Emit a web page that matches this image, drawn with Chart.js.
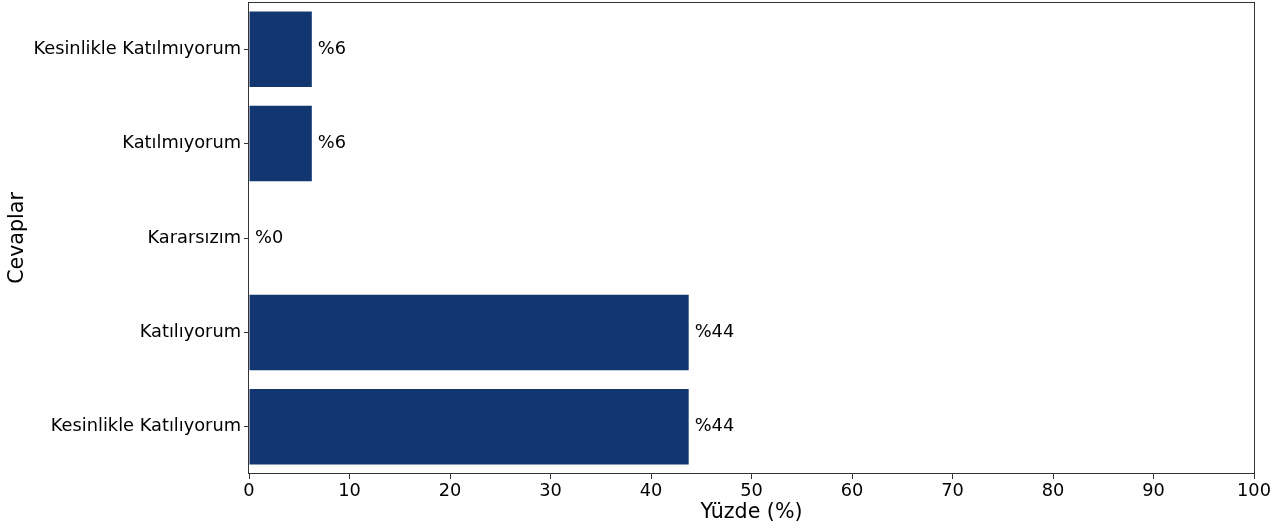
<!DOCTYPE html>
<html>
<head>
<meta charset="utf-8">
<script src="https://cdn.jsdelivr.net/npm/chart.js@4"></script>
<style>
html,body{margin:0;padding:0;background:#fff;}
#wrap{width:1285px;height:531px;position:relative;}
</style>
</head>
<body>
<div id="wrap"><canvas id="c" width="1285" height="531"></canvas></div>
<script>
const categories = ["Kesinlikle Katılmıyorum", "Katılmıyorum", "Kararsızım", "Katılıyorum", "Kesinlikle Katılıyorum"];
const percentages = [6.25, 6.25, 0, 43.75, 43.75];
const xTicks = [0, 10, 20, 30, 40, 50, 60, 70, 80, 90, 100];

const FONT = "'DejaVu Sans', sans-serif";
const TICK_SIZE = 17.8;

const framePlugin = {
  id: 'frame',
  afterDatasetsDraw(chart) {
    const {ctx, chartArea: a} = chart;
    ctx.save();
    ctx.strokeStyle = '#333';
    ctx.lineWidth = 1;
    ctx.strokeRect(Math.round(a.left) - 0.5, Math.round(a.top) + 0.5, Math.round(a.right - a.left) + 1, Math.round(a.bottom - a.top) - 1);
    ctx.restore();
  }
};

const labelPlugin = {
  id: 'barLabels',
  afterDatasetsDraw(chart) {
    const {ctx} = chart;
    const meta = chart.getDatasetMeta(0);
    ctx.save();
    ctx.font = TICK_SIZE + 'px ' + FONT;
    ctx.fillStyle = '#000';
    ctx.textAlign = 'left';
    ctx.textBaseline = 'middle';
    meta.data.forEach((bar, i) => {
      const v = chart.data.datasets[0].data[i];
      ctx.fillText('%' + Math.round(v), bar.x + 6, bar.y);
    });
    ctx.restore();
  }
};

new Chart(document.getElementById('c'), {
  type: 'bar',
  data: {
    labels: categories,
    datasets: [{
      data: percentages,
      backgroundColor: '#123670',
      borderWidth: 0,
      barPercentage: 0.8,
      categoryPercentage: 1.0
    }]
  },
  options: {
    indexAxis: 'y',
    responsive: false,
    animation: false,
    devicePixelRatio: 1,
    layout: { padding: { top: 2, right: 31, bottom: 0, left: 0 } },
    plugins: { legend: { display: false }, tooltip: { enabled: false } },
    scales: {
      x: {
        type: 'linear',
        min: 0, max: 100,
        afterBuildTicks(scale) { scale.ticks = xTicks.map(v => ({value: v})); },
        afterFit(scale) { scale.height = 57; scale.paddingLeft = 0; scale.paddingRight = 0; },
        grid: { display: true, drawOnChartArea: false, drawTicks: true, tickLength: 5, tickColor: '#333', tickWidth: 1 },
        border: { display: false },
        ticks: { color: '#000', font: { family: FONT, size: TICK_SIZE }, padding: 2, maxRotation: 0, autoSkip: false },
        title: { display: true, text: 'Yüzde (%)', color: '#000', font: { family: FONT, size: 20.6 }, padding: { top: 0, bottom: 6 } }
      },
      y: {
        offset: true,
        afterFit(scale) { scale.width = 249; scale.paddingTop = 0; scale.paddingBottom = 0; },
        grid: { display: true, drawOnChartArea: false, drawTicks: true, tickLength: 5, tickColor: '#333', tickWidth: 1, offset: false },
        border: { display: false },
        ticks: { color: '#000', font: { family: FONT, size: TICK_SIZE }, padding: 3, autoSkip: false },
        title: { display: true, text: 'Cevaplar', color: '#000', font: { family: FONT, size: 20.6 }, padding: { top: 5, bottom: 0 } }
      }
    }
  },
  plugins: [framePlugin, labelPlugin]
});
</script>
</body>
</html>
